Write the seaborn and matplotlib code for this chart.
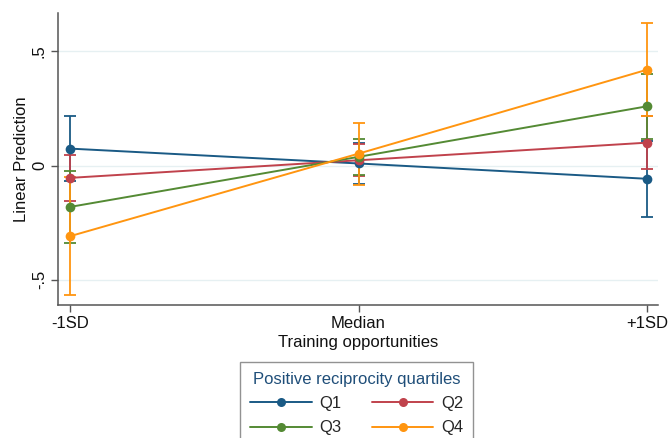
import numpy as np
import pandas as pd
import matplotlib
matplotlib.use("Agg")
import matplotlib.pyplot as plt
import seaborn as sns
from matplotlib.lines import Line2D

# Margins of linear prediction by training opportunities and reciprocity quartile
levels = ["-1SD", "Median", "+1SD"]
quartiles = ["Q1", "Q2", "Q3", "Q4"]
q1 = [0.074, 0.009, -0.058]
q2 = [-0.054, 0.023, 0.100]
q3 = [-0.181, 0.038, 0.259]
q4 = [-0.309, 0.052, 0.419]
q1_ci = [0.143, 0.090, 0.166]
q2_ci = [0.099, 0.070, 0.117]
q3_ci = [0.157, 0.080, 0.141]
q4_ci = [0.257, 0.136, 0.204]
colors = ["#1a5a85", "#c0424c", "#548a34", "#ff9510"]

values = [q1, q2, q3, q4]
cis = [q1_ci, q2_ci, q3_ci, q4_ci]
df = pd.DataFrame({
    "pos": np.tile(np.arange(len(levels)), len(quartiles)),
    "pred": np.concatenate(values),
    "ci": np.concatenate(cis),
    "quartile": np.repeat(quartiles, len(levels)),
})

sns.set_theme(style="white")
plt.rcParams["font.family"] = ["Liberation Sans", "DejaVu Sans"]

fig = plt.figure(figsize=(6.7, 4.38), dpi=100)
ax = fig.add_axes([0.0866, 0.3037, 0.8954, 0.666])

for y in (-0.5, 0, 0.5):
    ax.axhline(y, color="#e6f0f2", lw=1.0, zorder=0)

palette = dict(zip(quartiles, colors))
for qname in quartiles:
    sub = df[df.quartile == qname]
    ax.errorbar(sub.pos, sub.pred, yerr=sub.ci, fmt="none",
                ecolor=palette[qname], elinewidth=1.3, capsize=4.5,
                capthick=1.3, zorder=2)

sns.lineplot(data=df, x="pos", y="pred", hue="quartile", palette=palette,
             marker="o", markersize=7, markeredgewidth=0, linewidth=1.4,
             legend=False, ax=ax, zorder=3)

ax.set_xlim(-0.042, 2.038)
ax.set_ylim(-0.61, 0.666)
ax.set_xticks(range(len(levels)))
ax.set_xticklabels(levels)
ax.set_yticks([-0.5, 0, 0.5])
ax.set_yticklabels(["-.5", "0", ".5"], rotation=90, va="center")
ax.tick_params(axis="both", direction="out", length=5, width=1,
               color="#555555", labelsize=12, labelcolor="#111111", pad=3,
               left=True, bottom=True)
ax.set_xlabel("Training opportunities", fontsize=12, color="#111111", labelpad=3)
ax.set_ylabel("Linear Prediction", fontsize=12, color="#111111", labelpad=2)

for side in ("top", "right"):
    ax.spines[side].set_visible(False)
for side in ("left", "bottom"):
    ax.spines[side].set_color("#555555")
    ax.spines[side].set_linewidth(1.1)

handles = [Line2D([], [], color=c, marker="o", markersize=6.5, lw=1.4,
                  markeredgewidth=0) for c in colors]
order = [0, 2, 1, 3]
leg = fig.legend([handles[i] for i in order], [quartiles[i] for i in order],
                 ncol=2, title="Positive reciprocity quartiles",
                 loc="upper center", bbox_to_anchor=(0.5325, 1 - 362 / 438),
                 frameon=True, fancybox=False, fontsize=12, title_fontsize=12,
                 handlelength=3.7, columnspacing=1.8, labelspacing=0.55,
                 borderpad=0.6, handletextpad=0.45, borderaxespad=0)
leg.get_frame().set_edgecolor("#777777")
leg.get_frame().set_linewidth(1.0)
leg.get_title().set_color("#1f4e79")

fig.savefig("out.png", dpi=100)
